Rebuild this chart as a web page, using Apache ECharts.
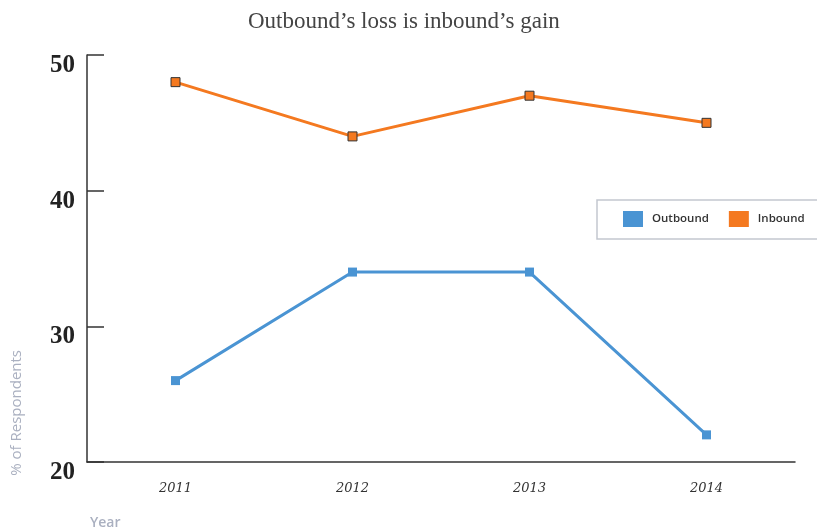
<!DOCTYPE html>
<html>
<head>
<meta charset="utf-8">
<script src="https://cdn.jsdelivr.net/npm/echarts@6/dist/echarts.min.js"></script>
<style>
  html, body { margin: 0; padding: 0; background: #fff; }
  #chart { width: 817px; height: 531px; }
</style>
</head>
<body>
<div id="chart"></div>
<script>
// Survey share by year
const years = ['2011', '2012', '2013', '2014'];
const outbound = [26, 34, 34, 22];
const inbound = [48, 44, 47, 45];
const yTicks = { min: 20, max: 50, step: 10 };

const chart = echarts.init(document.getElementById('chart'));

chart.setOption({
  animation: false,
  title: {
    text: 'Outbound’s loss is inbound’s gain',
    left: 243,
    top: 5,
    textStyle: {
      fontFamily: 'Liberation Serif',
      fontWeight: 'normal',
      fontSize: 23,
      color: '#444'
    }
  },
  legend: {
    data: ['Outbound', 'Inbound'],
    orient: 'horizontal',
    left: 597,
    top: 200,
    width: 210,
    padding: [11, 40, 12, 26],
    itemWidth: 20,
    itemHeight: 16,
    itemGap: 20,
    borderColor: '#c3c7d0',
    borderWidth: 1.5,
    icon: 'rect',
    itemStyle: { borderWidth: 0 },
    textStyle: {
      fontFamily: 'Open Sans',
      fontWeight: 600,
      fontSize: 11.5,
      color: '#333',
      padding: [0, 0, 0, 4]
    }
  },
  grid: { left: 87, right: 22, top: 55, bottom: 69 },
  xAxis: {
    type: 'category',
    data: years,
    boundaryGap: true,
    axisLine: { lineStyle: { color: '#333', width: 1.5 } },
    axisTick: { inside: true, length: 10, alignWithLabel: true, lineStyle: { color: '#333', width: 1.5 } },
    axisLabel: {
      margin: 20,
      fontFamily: 'DejaVu Serif',
      fontStyle: 'italic',
      fontSize: 13,
      color: '#333'
    },
    splitLine: { show: false }
  },
  yAxis: {
    type: 'value',
    min: yTicks.min,
    max: yTicks.max,
    interval: yTicks.step,
    axisLine: { show: true, lineStyle: { color: '#333', width: 1.5 } },
    axisTick: { show: true, inside: true, length: 17, lineStyle: { color: '#333', width: 1.5 } },
    axisLabel: {
      margin: 12,
      fontFamily: 'Liberation Serif',
      fontWeight: 'bold',
      fontSize: 25,
      color: '#222',
      verticalAlign: 'top',
      lineHeight: 21
    },
    splitLine: { show: false }
  },
  graphic: [
    {
      type: 'text',
      left: 9,
      top: 350,
      rotation: Math.PI / 2,
      originX: 0,
      originY: 0,
      style: {
        text: '% of Respondents',
        fontFamily: 'Open Sans',
        fontSize: 15,
        fontWeight: 'normal',
        fill: '#aab0c0'
      }
    },
    {
      type: 'text',
      left: 90,
      top: 516,
      style: {
        text: 'Year',
        fontFamily: 'Open Sans',
        fontSize: 14,
        fontWeight: 600,
        fill: '#aab0c0'
      }
    }
  ],
  series: [
    {
      name: 'Outbound',
      type: 'line',
      data: outbound,
      color: '#4a94d3',
      symbol: 'rect',
      symbolSize: 9,
      lineStyle: { width: 3 },
      itemStyle: { color: '#4a94d3' }
    },
    {
      name: 'Inbound',
      type: 'line',
      data: inbound,
      color: '#f47920',
      symbol: 'rect',
      symbolSize: 9,
      lineStyle: { width: 3 },
      itemStyle: { color: '#f47920', borderColor: '#333', borderWidth: 1 }
    }
  ]
});
</script>
</body>
</html>
